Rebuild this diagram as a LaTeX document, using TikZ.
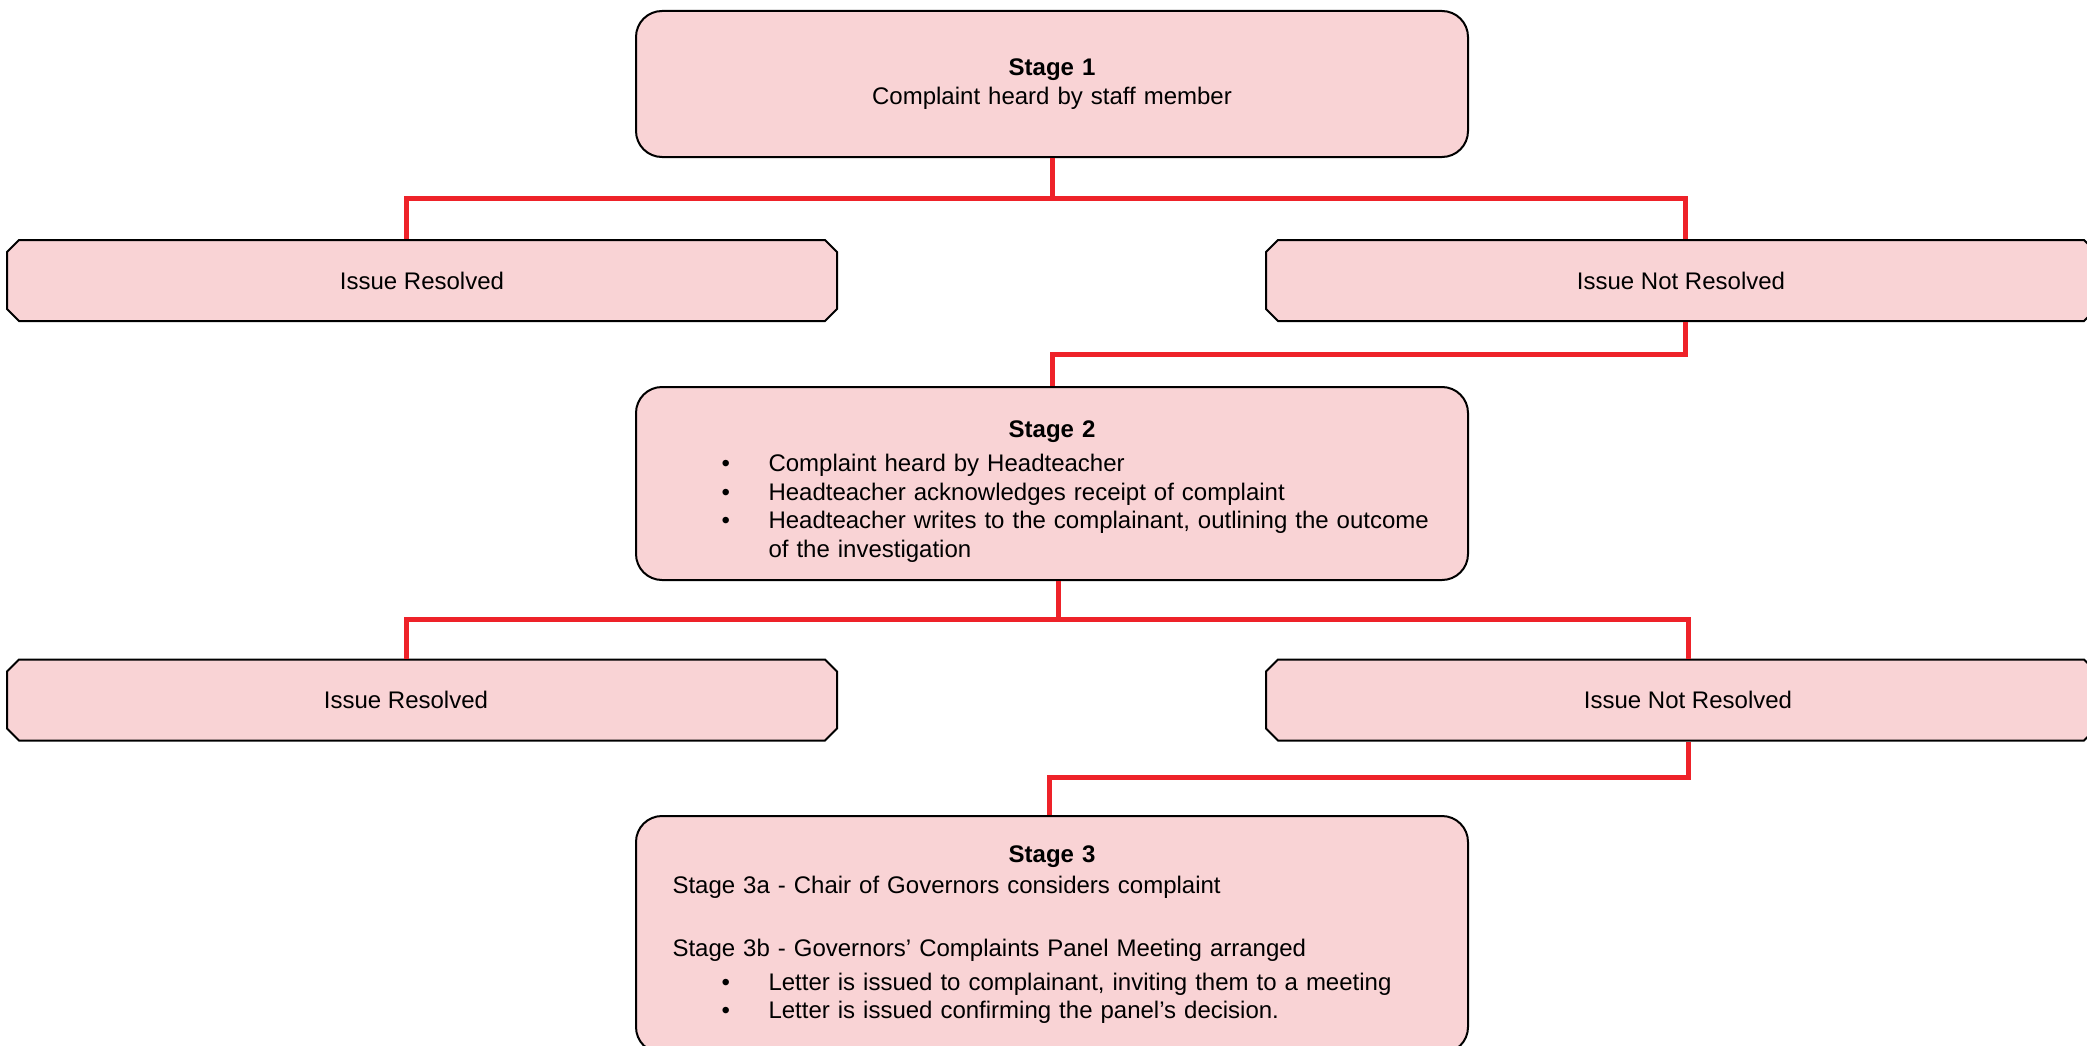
\documentclass[tikz,border=0pt]{standalone}
\usepackage{fontspec}
\setmainfont{Liberation Sans}
\usetikzlibrary{shapes.misc}
\definecolor{boxpink}{HTML}{F9D3D5}
\definecolor{linkred}{HTML}{EE2229}
\newcommand{\bulletline}[1]{\par\noindent\hspace*{49pt}\makebox[47pt][l]{\textbullet}\parbox[t]{663pt}{#1}}

\begin{document}
\begin{tikzpicture}[x=1pt,y=-1pt,
  stagebox/.style={draw,line width=2pt,rounded corners=26pt,fill=boxpink,minimum width=832pt,text width=759pt,inner sep=0pt,font=\fontsize{24}{28.6}\selectfont},
  issuebox/.style={draw,line width=2pt,chamfered rectangle,chamfered rectangle xsep=6pt,chamfered rectangle ysep=6pt,fill=boxpink,minimum width=830pt,minimum height=81pt,inner sep=0pt,font=\fontsize{24}{28.6}\selectfont},
  link/.style={draw=linkred,line width=5pt}]
  \useasboundingbox (0,0) rectangle (2087,1046);

  % stages
  \node[stagebox,minimum height=146pt,align=center] (s1) at (1052,84) {\textbf{Stage 1}\\Complaint heard by staff member};
  \node[stagebox,minimum height=193pt] (s2) at (1052,483.5) {%
    {\centering\bfseries\rule{0pt}{33pt}Stage 2\par}
    \vspace{5pt}
    \bulletline{Complaint heard by Headteacher}
    \bulletline{Headteacher acknowledges receipt of complaint}
    \bulletline{Headteacher writes to the complainant, outlining the outcome of the investigation}};
  \node[stagebox,minimum height=237pt,anchor=north] (s3) at (1052,815) {%
    {\centering\bfseries Stage 3\par}
    \vspace{2.5pt}
    \noindent Stage 3a - Chair of Governors considers complaint\par
    \mbox{}\par
    \vspace{6pt}
    \noindent Stage 3b - Governors’ Complaints Panel Meeting arranged\par
    \vspace{5pt}
    \bulletline{Letter is issued to complainant, inviting them to a meeting}
    \bulletline{Letter is issued confirming the panel’s decision.}};

  % outcomes
  \node[issuebox] (ok1) at (422,280.5) {Issue Resolved};
  \node[issuebox] (no1) at (1681,280.5) {Issue Not Resolved};
  \node[issuebox] (ok2) at (422,700) {\hspace*{-32pt}Issue Resolved};
  \node[issuebox] (no2) at (1681,700) {\hspace*{14pt}Issue Not Resolved};

  % connectors
  \draw[link] (s1.south) -- ++(0,40) -| ([xshift=-16pt]ok1.north);
  \draw[link] (s1.south) -- ++(0,40) -| ([xshift=4pt]no1.north);
  \draw[link] ([xshift=4pt]no1.south) -- ++(0,32) -| (s2.north);
  \draw[link] ([xshift=6pt]s2.south) -- ++(0,38) -| ([xshift=-16pt]ok2.north);
  \draw[link] ([xshift=6pt]s2.south) -- ++(0,38) -| ([xshift=7pt]no2.north);
  \draw[link] ([xshift=7pt]no2.south) -- ++(0,36) -| ([xshift=-3pt]s3.north);
\end{tikzpicture}
\end{document}
